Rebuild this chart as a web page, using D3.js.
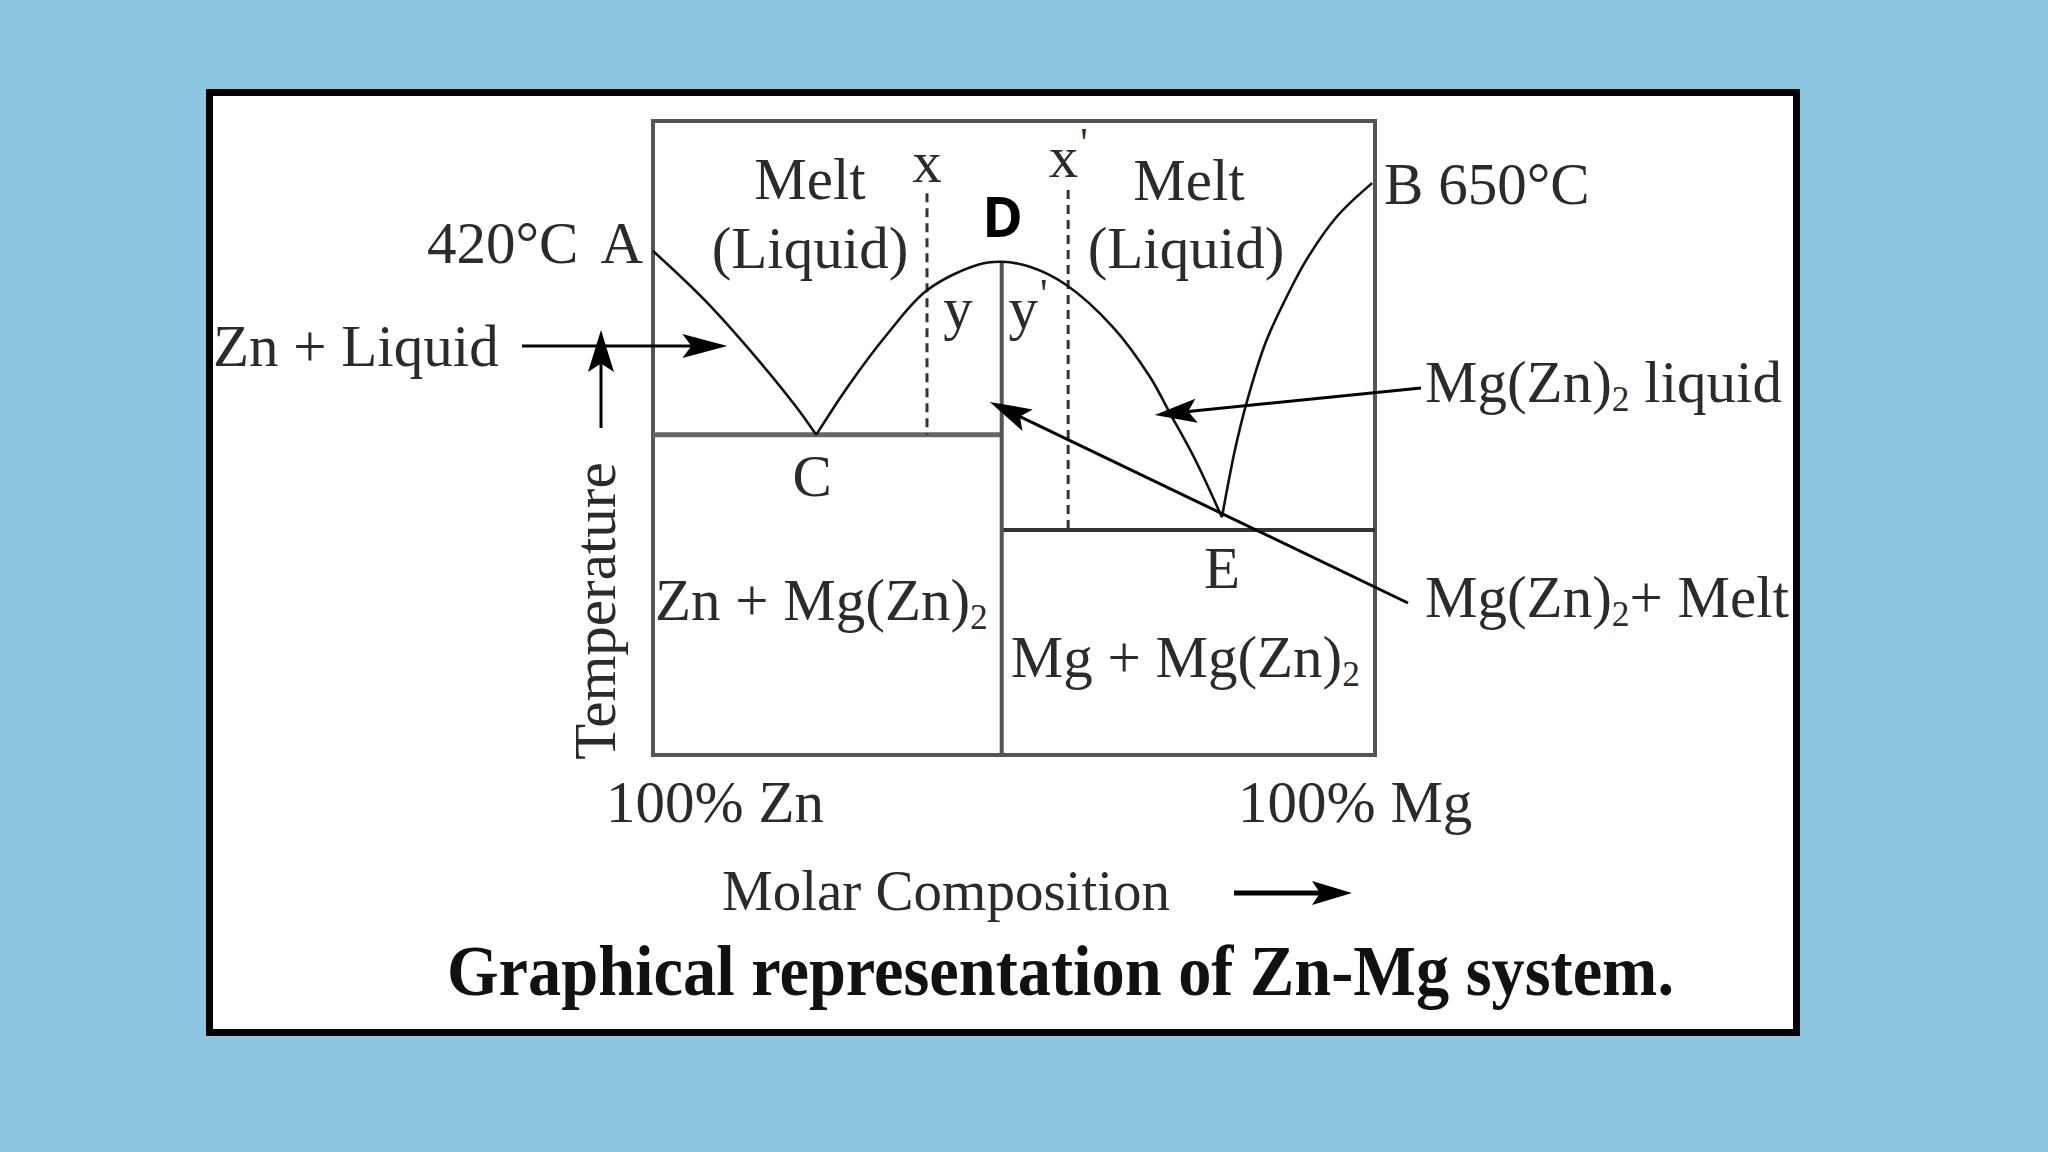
<!DOCTYPE html>
<html>
<head>
<meta charset="utf-8">
<script src="https://cdn.jsdelivr.net/npm/d3@7"></script>
<style>
  html, body { margin: 0; padding: 0; background: #8dc6e0; }
  svg { display: block; }
</style>
</head>
<body>
<div id="chart"></div>
<script>
(function () {
    'use strict';

    // composition in mol % Mg, temperature in relative (schematic) units 0-100
    var zincLiquidusX = [0, 7.2, 14.5, 19.9, 22.6];
    var zincLiquidusT = [79.5, 71.7, 62.4, 54.8, 50.5];
    var compoundLiquidusX = [22.6, 27.1, 32.6, 37.95, 44.9, 48.3, 52.2, 57.3, 63.7, 68.8, 71.6, 75.0, 78.8];
    var compoundLiquidusT = [50.5, 58.3, 66.6, 73.3, 77.3, 77.8, 77.0, 74.1, 67.5, 59.7, 53.9, 46.8, 37.5];
    var magnesiumLiquidusX = [78.8, 80.6, 82.2, 84.8, 87.3, 90.5, 94.7, 99.6];
    var magnesiumLiquidusT = [37.5, 48.1, 55.5, 64.9, 71.2, 78.1, 84.9, 90.2];

    var pointNames = ['A', 'B', 'C', 'D', 'E'];
    var pointX = [0, 99.6, 22.6, 48.3, 78.8];
    var pointT = [79.5, 90.2, 50.5, 77.8, 37.5];
    var meltingPoints = ['420°C', '650°C'];

    var eutecticT = [50.5, 35.5];          // solidus through C and through E
    var coolingX = [37.95, 57.5];          // x and x' paths
    var coolingTop = [88.6, 89.1];
    var coolingNames = ['x', "x'"];
    var crossNames = ['y', "y'"];

    var meltLabel = ['Melt', '(Liquid)'];
    var phaseLabels = ['Zn + Mg(Zn)_2', 'Mg + Mg(Zn)_2'];
    var pointerLabels = ['Zn + Liquid', 'Mg(Zn)_2 liquid', 'Mg(Zn)_2+ Melt'];
    var axisEnds = ['100% Zn', '100% Mg'];
    var xTitle = 'Molar Composition';
    var yTitle = 'Temperature';
    var title = 'Graphical representation of Zn-Mg system.';

    var W = 2048, H = 1152;
    var serif = '"Liberation Serif", "Times New Roman", serif';
    var textColor = '#2b2b2b';
    var fs = 59;

    var svg = d3.select('#chart').append('svg')
        .attr('width', W)
        .attr('height', H);

    svg.append('rect').attr('width', W).attr('height', H).attr('fill', '#8dc6e0');
    svg.append('rect')
        .attr('x', 209.5).attr('y', 92.5)
        .attr('width', 1587).attr('height', 940)
        .attr('fill', '#fff')
        .attr('stroke', '#000')
        .attr('stroke-width', 7);

    var x = d3.scaleLinear().domain([0, 100]).range([653, 1375]);
    var y = d3.scaleLinear().domain([0, 100]).range([755, 121]);

    var plot = svg.append('g');

    plot.append('rect')
        .attr('x', x(0)).attr('y', y(100))
        .attr('width', x(100) - x(0)).attr('height', y(0) - y(100))
        .attr('fill', 'none')
        .attr('stroke', '#555')
        .attr('stroke-width', 4);

    var dX = pointX[3];
    // eutectic horizontals and the compound vertical
    plot.append('line')
        .attr('x1', x(0)).attr('x2', x(dX))
        .attr('y1', y(eutecticT[0])).attr('y2', y(eutecticT[0]))
        .attr('stroke', '#666').attr('stroke-width', 5);
    plot.append('line')
        .attr('x1', x(dX)).attr('x2', x(100))
        .attr('y1', y(eutecticT[1])).attr('y2', y(eutecticT[1]))
        .attr('stroke', '#333').attr('stroke-width', 4);
    plot.append('line')
        .attr('x1', x(dX)).attr('x2', x(dX))
        .attr('y1', y(pointT[3])).attr('y2', y(0))
        .attr('stroke', '#555').attr('stroke-width', 4);

    // cooling paths
    plot.selectAll('.cool')
        .data(coolingX)
        .enter().append('line')
        .attr('class', 'cool')
        .attr('x1', function (d) { return x(d); })
        .attr('x2', function (d) { return x(d); })
        .attr('y1', function (d, i) { return y(coolingTop[i]); })
        .attr('y2', function (d, i) { return y(eutecticT[i]); })
        .attr('stroke', '#333')
        .attr('stroke-width', 3)
        .attr('stroke-dasharray', '9,6');

    var line = d3.line()
        .x(function (d) { return x(d[0]); })
        .y(function (d) { return y(d[1]); })
        .curve(d3.curveCatmullRom.alpha(0.5));

    [[zincLiquidusX, zincLiquidusT], [compoundLiquidusX, compoundLiquidusT], [magnesiumLiquidusX, magnesiumLiquidusT]]
        .forEach(function (c) {
            plot.append('path')
                .attr('d', line(d3.zip(c[0], c[1])))
                .attr('fill', 'none')
                .attr('stroke', '#111')
                .attr('stroke-width', 2.6);
        });

    function label(px, py, str, anchor, size) {
        var t = svg.append('text')
            .attr('x', px).attr('y', py)
            .attr('text-anchor', anchor || 'start')
            .attr('font-family', serif)
            .attr('font-size', (size || fs) + 'px')
            .attr('fill', textColor);
        var parts = str.split('_');
        t.append('tspan').text(parts[0]);
        for (var i = 1; i < parts.length; i++) {
            t.append('tspan').attr('font-size', '0.6em').attr('dy', 9).text(parts[i].charAt(0));
            if (parts[i].length > 1)
                t.append('tspan').attr('dy', -9).text(parts[i].slice(1));
        }
        return t;
    }

    function primed(px, py, base) {
        var t = label(px, py, base.charAt(0), 'middle');
        if (base.length > 1)
            t.append('tspan').attr('dx', 2).attr('dy', -20).attr('font-size', '0.7em').text("'");
        return t;
    }

    function arrow(x1, y1, x2, y2, len, half, width) {
        var a = Math.atan2(y2 - y1, x2 - x1);
        var c = Math.cos(a), s = Math.sin(a);
        var bx = x2 - len * c, by = y2 - len * s;
        var nx = x2 - len * 0.8 * c, ny = y2 - len * 0.8 * s;
        svg.append('line')
            .attr('x1', x1).attr('y1', y1).attr('x2', nx).attr('y2', ny)
            .attr('stroke', '#000').attr('stroke-width', width);
        svg.append('path')
            .attr('d', 'M' + x2 + ',' + y2 +
                'L' + (bx + half * s) + ',' + (by - half * c) +
                'L' + nx + ',' + ny +
                'L' + (bx - half * s) + ',' + (by + half * c) + 'Z')
            .attr('fill', '#000');
    }

    // melting points
    var tA = label(x(pointX[0]) - 10, y(pointT[0]) + 12, meltingPoints[0], 'end');
    tA.append('tspan').attr('dx', 22).text(pointNames[0]);
    label(x(pointX[1]) + 12, y(pointT[1]) + 21, pointNames[1] + ' ' + meltingPoints[1], 'start');

    label(x(pointX[2]) - 4, y(pointT[2]) + 61, pointNames[2], 'middle');
    label(x(pointX[4]), y(eutecticT[1]) + 58, pointNames[4], 'middle');
    svg.append('text')
        .attr('x', x(dX) + 1).attr('y', 237)
        .attr('text-anchor', 'middle')
        .attr('font-family', '"Open Sans", "DejaVu Sans", sans-serif')
        .attr('font-weight', 700)
        .attr('font-size', '55px')
        .attr('fill', '#000')
        .text(pointNames[3]);

    // melt regions
    [[810, 1189], [810, 1186]].forEach(function (cx, i) {
        label(cx[0], i === 0 ? 199 : 268, meltLabel[i], 'middle');
        label(cx[1], i === 0 ? 200 : 268, meltLabel[i], 'middle');
    });

    coolingNames.forEach(function (n, i) { primed(x(coolingX[i]), i === 0 ? 182 : 177, n); });
    primed(958, 328, crossNames[0]);
    primed(1028, 328, crossNames[1]);

    label(x(0) + 2, 620, phaseLabels[0]);
    label(x(dX) + 9, 677, phaseLabels[1]);

    // pointers
    label(213, 366, pointerLabels[0]);
    arrow(522, 346, x(10.3), 346, 45, 12, 3);
    label(1425, 402, pointerLabels[1]);
    arrow(1421, 388, x(69.5), 415, 42, 12, 3);
    label(1425, 617, pointerLabels[2]);
    arrow(1408, 603, x(dX) - 12, 402, 42, 12, 3);

    // axes
    arrow(601, 428, 601, 330, 42, 13, 3);
    svg.append('text')
        .attr('transform', 'translate(615,611) rotate(-90)')
        .attr('text-anchor', 'middle')
        .attr('font-family', serif)
        .attr('font-size', fs + 'px')
        .attr('fill', textColor)
        .text(yTitle);

    label(606, 822, axisEnds[0]);
    label(1238, 822, axisEnds[1]);
    label(722, 910, xTitle, 'start', 57);
    arrow(1234, 893, 1352, 893, 40, 12, 5);

    svg.append('text')
        .attr('x', 447).attr('y', 995)
        .attr('font-family', serif)
        .attr('font-weight', 700)
        .attr('font-size', '72px')
        .attr('textLength', 1227)
        .attr('lengthAdjust', 'spacingAndGlyphs')
        .attr('fill', '#111')
        .text(title);
})();
</script>
</body>
</html>
